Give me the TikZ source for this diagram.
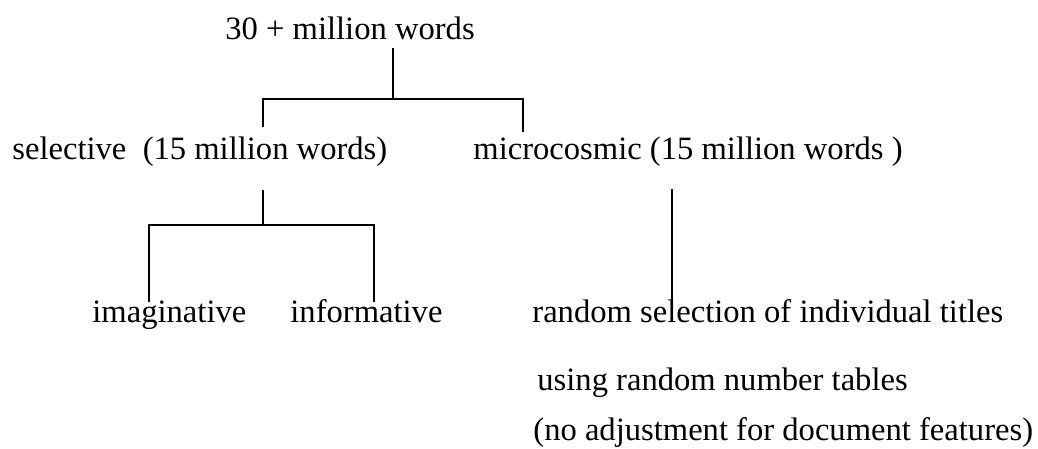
\documentclass[tikz,border=0pt]{standalone}
\usepackage{fontspec}
\setmainfont{Liberation Serif}

\begin{document}
\begin{tikzpicture}[x=0.5pt, y=-0.5pt, line cap=butt, line join=miter,
    txt/.style={anchor=base west, inner sep=0pt,
                font=\fontsize{16.3}{20}\selectfont},
    branch/.style={line width=0.75pt}]
  \useasboundingbox (0,0) rectangle (1038,449);
  % root
  \node[txt] (total) at (225,40) {30 + million words};
  % second level
  \node[txt] (sel) at (12,159) {selective~ (15 million words)};
  \node[txt] (mic) at (473,159) {microcosmic (15 million words~)};
  % third level
  \node[txt] (ima) at (92,322) {imaginative};
  \node[txt] (inf) at (290,322) {informative};
  \node[txt] (ran) at (532,322) {random selection of individual titles};
  \node[txt] (tab) at (537,390) {using random number tables};
  \node[txt] (adj) at (533,440) {(no adjustment for document features)};
  % ends of the branches
  \coordinate (total-foot) at (393,48);
  \coordinate (j-top) at (393,99);
  \coordinate (sel-head) at (263,127);
  \coordinate (mic-head) at (523,132);
  \coordinate (sel-foot) at (263,190);
  \coordinate (j-sel) at (263,225);
  \coordinate (ima-head) at (149,302);
  \coordinate (inf-head) at (374,302);
  \coordinate (mic-foot) at (672,189);
  \coordinate (ran-head) at (672,302);
  % the tree
  \draw[branch] (total-foot) -- (j-top);
  \draw[branch] (sel-head) |- (j-top) -| (mic-head);
  \draw[branch] (sel-foot) -- (j-sel);
  \draw[branch] (ima-head) |- (j-sel) -| (inf-head);
  \draw[branch] (mic-foot) -- (ran-head);
\end{tikzpicture}
\end{document}
